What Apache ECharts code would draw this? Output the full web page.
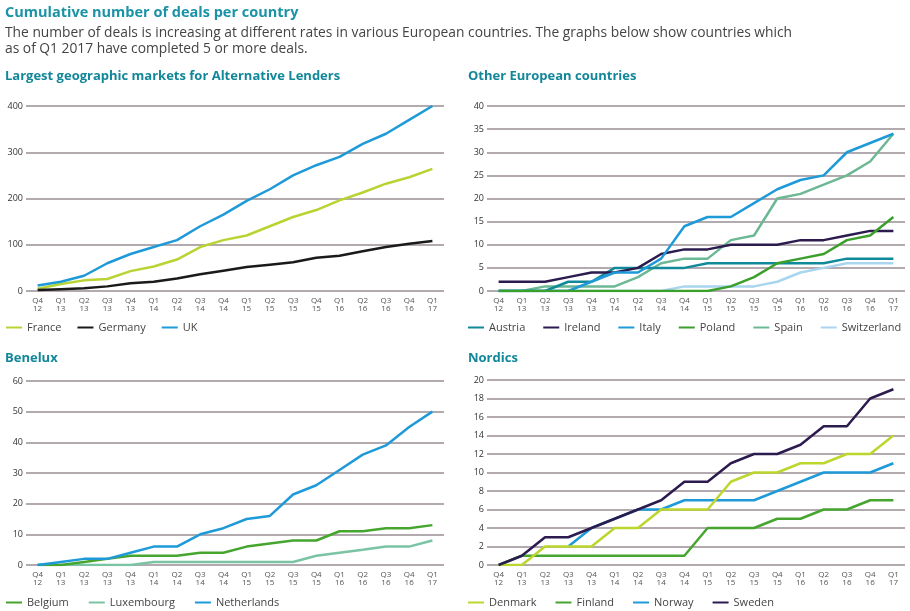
<!DOCTYPE html>
<html lang="en">
<head>
    <meta charset="UTF-8">
    <title>Cumulative number of deals per country</title>
    <script src="https://cdn.jsdelivr.net/npm/echarts@6/dist/echarts.min.js"></script>
    <style>
        body { margin: 0; background: #fff; }
        #main { width: 910px; height: 611px; }
    </style>
</head>
<body>
    <div id="main"></div>
    <script>
        // quarters, shared by all four panels
        const quarters = ['Q4\n12','Q1\n13','Q2\n13','Q3\n13','Q4\n13','Q1\n14','Q2\n14','Q3\n14','Q4\n14',
            'Q1\n15','Q2\n15','Q3\n15','Q4\n15','Q1\n16','Q2\n16','Q3\n16','Q4\n16','Q1\n17'];

        // largest markets
        const france  = [5, 15, 23, 26, 43, 53, 68, 95, 110, 120, 140, 160, 175, 196, 213, 232, 246, 264];
        const germany = [2, 4, 6, 10, 17, 20, 27, 36, 44, 52, 57, 62, 72, 76, 86, 95, 102, 108];
        const uk      = [12, 20, 33, 60, 80, 95, 110, 140, 165, 195, 220, 250, 272, 290, 318, 340, 370, 400];

        // other european countries
        const austria     = [0, 0, 0, 2, 2, 5, 5, 5, 5, 6, 6, 6, 6, 6, 6, 7, 7, 7];
        const ireland     = [2, 2, 2, 3, 4, 4, 5, 8, 9, 9, 10, 10, 10, 11, 11, 12, 13, 13];
        const italy       = [0, 0, 0, 0, 2, 4, 4, 7, 14, 16, 16, 19, 22, 24, 25, 30, 32, 34];
        const poland      = [0, 0, 0, 0, 0, 0, 0, 0, 0, 0, 1, 3, 6, 7, 8, 11, 12, 16];
        const spain       = [0, 0, 1, 1, 1, 1, 3, 6, 7, 7, 11, 12, 20, 21, 23, 25, 28, 34];
        const switzerland = [0, 0, 0, 0, 0, 0, 0, 0, 1, 1, 1, 1, 2, 4, 5, 6, 6, 6];

        // benelux
        const belgium     = [0, 0, 1, 2, 3, 3, 3, 4, 4, 6, 7, 8, 8, 11, 11, 12, 12, 13];
        const luxembourg  = [0, 0, 0, 0, 0, 1, 1, 1, 1, 1, 1, 1, 3, 4, 5, 6, 6, 8];
        const netherlands = [0, 1, 2, 2, 4, 6, 6, 10, 12, 15, 16, 23, 26, 31, 36, 39, 45, 50];

        // nordics
        const denmark = [0, 0, 2, 2, 2, 4, 4, 6, 6, 6, 9, 10, 10, 11, 11, 12, 12, 14];
        const finland = [0, 1, 1, 1, 1, 1, 1, 1, 1, 4, 4, 4, 5, 5, 6, 6, 7, 7];
        const norway  = [null, null, null, 2, 4, 5, 6, 6, 7, 7, 7, 7, 8, 9, 10, 10, 10, 11];
        const sweden  = [0, 1, 3, 3, 4, 5, 6, 7, 9, 9, 11, 12, 12, 13, 15, 15, 18, 19];

        const FONT = '"Open Sans", "Noto Sans", sans-serif';
        const GRIDLINE = '#9a8e94';

        const grids = [
            {left: 26, top: 106, width: 418, height: 185},
            {left: 487, top: 106, width: 418, height: 185},
            {left: 26, top: 381, width: 418, height: 184},
            {left: 487, top: 380, width: 418, height: 185}
        ];

        function xAxis(i) {
            return {
                type: 'category', gridIndex: i, data: quarters, boundaryGap: true,
                axisLine: {show: false}, axisTick: {show: false},
                axisLabel: {fontFamily: FONT, fontSize: 8, color: '#555', lineHeight: 8, margin: 6, interval: 0}
            };
        }
        function yAxis(i, max, interval) {
            return {
                type: 'value', gridIndex: i, min: 0, max: max, interval: interval,
                axisLine: {show: false}, axisTick: {show: false},
                axisLabel: {fontFamily: FONT, fontSize: 9, color: '#333', margin: 3},
                splitLine: {lineStyle: {color: GRIDLINE, width: 1.5}}
            };
        }
        function line(name, data, color, i) {
            return {
                name: name, type: 'line', data: data, xAxisIndex: i, yAxisIndex: i,
                symbol: 'none', lineStyle: {color: color, width: 2.5}, itemStyle: {color: color}
            };
        }
        function legend(names, left, top, gap) {
            return {
                data: names, left: left, top: top, padding: 0, width: 445,
                icon: 'rect', itemWidth: 16, itemHeight: 2,
                itemGap: gap, textStyle: {fontFamily: FONT, fontSize: 11, color: '#444'}
            };
        }
        const panelTitle = {fontFamily: FONT, fontSize: 13, fontWeight: 'bold', color: '#12879a'};

        const chart = echarts.init(document.getElementById('main'));
        chart.setOption({
            animation: false,
            title: [
                {text: 'Cumulative number of deals per country', left: 5, top: 5, padding: 0,
                    textStyle: {fontFamily: FONT, fontSize: 14.5, fontWeight: 'bold', color: '#1a93a6'}},
                {text: 'The number of deals is increasing at different rates in various European countries. The graphs below show countries which\nas of Q1 2017 have completed 5 or more deals.',
                    left: 5, top: 25, padding: 0,
                    textStyle: {fontFamily: FONT, fontSize: 13.8, fontWeight: 'normal', color: '#444', lineHeight: 16}},
                {text: 'Largest geographic markets for Alternative Lenders', left: 5, top: 70, padding: 0, textStyle: panelTitle},
                {text: 'Other European countries', left: 468, top: 70, padding: 0, textStyle: panelTitle},
                {text: 'Benelux', left: 5, top: 352, padding: 0, textStyle: panelTitle},
                {text: 'Nordics', left: 468, top: 352, padding: 0, textStyle: panelTitle}
            ],
            grid: grids,
            xAxis: [xAxis(0), xAxis(1), xAxis(2), xAxis(3)],
            yAxis: [yAxis(0, 400, 100), yAxis(1, 40, 5), yAxis(2, 60, 10), yAxis(3, 20, 2)],
            legend: [
                legend(['France', 'Germany', 'UK'], 6, 322, 16),
                legend(['Austria', 'Ireland', 'Italy', 'Poland', 'Spain', 'Switzerland'], 468, 322, 18),
                legend(['Belgium', 'Luxembourg', 'Netherlands'], 6, 597, 20),
                legend(['Denmark', 'Finland', 'Norway', 'Sweden'], 468, 597, 19)
            ],
            series: [
                line('France', france, '#b8d432', 0),
                line('Germany', germany, '#1a1a1a', 0),
                line('UK', uk, '#1e9ad8', 0),

                line('Switzerland', switzerland, '#a9d5ef', 1),
                line('Spain', spain, '#6cb894', 1),
                line('Austria', austria, '#10899b', 1),
                line('Ireland', ireland, '#2b1b4f', 1),
                line('Italy', italy, '#1e9ad8', 1),
                line('Poland', poland, '#3b9f2c', 1),

                line('Luxembourg', luxembourg, '#7ac4a4', 2),
                line('Belgium', belgium, '#46a52f', 2),
                line('Netherlands', netherlands, '#1e9ad8', 2),

                line('Finland', finland, '#46a52f', 3),
                line('Norway', norway, '#1e9ad8', 3),
                line('Denmark', denmark, '#bdd62e', 3),
                line('Sweden', sweden, '#2b1b4f', 3)
            ]
        });
    </script>
</body>
</html>
